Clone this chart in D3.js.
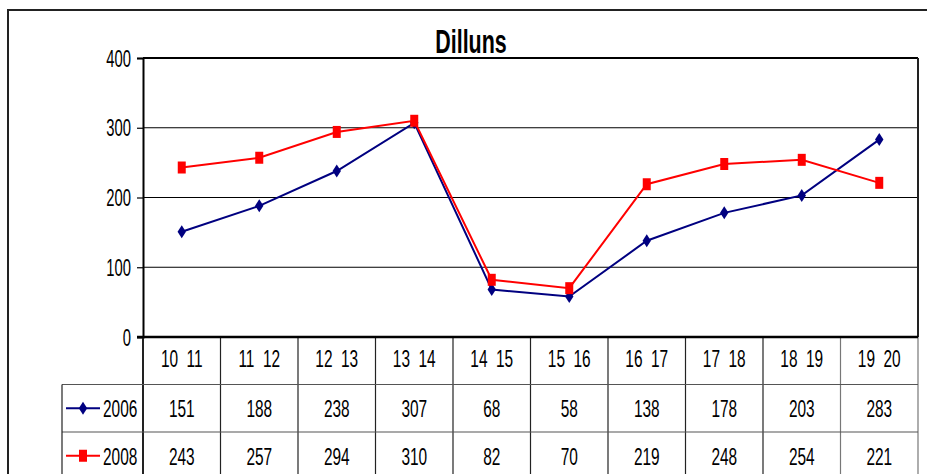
<!DOCTYPE html>
<html>
  <meta charset="utf-8" />
  <head>
    <script src="https://cdnjs.cloudflare.com/ajax/libs/d3/7.8.5/d3.min.js"></script>
    <style>
      body { margin: 0; background: #fff; }
      text { font-family: "Liberation Sans", Arial, sans-serif; fill: #000; white-space: pre; }
    </style>
  </head>
  <body>
    <script>
    const categories = ["10  11", "11  12", "12  13", "13  14", "14  15", "15  16", "16  17", "17  18", "18  19", "19  20"];
    const series2006 = [151, 188, 238, 307, 68, 58, 138, 178, 203, 283];
    const series2008 = [243, 257, 294, 310, 82, 70, 219, 248, 254, 221];
    const yTicks = [0, 100, 200, 300, 400];

    const series = [
        { name: "2006", values: series2006, color: "#000080", marker: "diamond" },
        { name: "2008", values: series2008, color: "#ff0000", marker: "square" },
    ];

    const width = 927, height = 474;
    const plot = { left: 143, right: 918, top: 58, bottom: 337 };
    const rowH = 47.5;
    const legendLeft = 62;
    const squeeze = 0.63; // the original text is narrow and tall

    const svg = d3.select("body").append("svg")
        .attr("width", width)
        .attr("height", height);

    // outer chart frame
    svg.append("rect")
        .attr("x", 8).attr("y", 10)
        .attr("width", 1000).attr("height", 600)
        .attr("fill", "none")
        .attr("stroke", "#222")
        .attr("stroke-width", 2);

    const x = d3.scaleBand().domain(categories).range([plot.left, plot.right]);
    const y = d3.scaleLinear().domain([0, 400]).range([plot.bottom, plot.top]);

    function label(g, tx, ty, str, size, anchor, weight) {
        return g.append("text")
            .attr("transform", `translate(${tx},${ty}) scale(${squeeze},1)`)
            .attr("text-anchor", anchor || "middle")
            .attr("font-size", size + "px")
            .attr("font-weight", weight || "normal")
            .text(str);
    }

    // title
    label(svg, 471, 53, "Dilluns", 34, "middle", "bold");

    // gridlines
    svg.append("g").selectAll("line")
        .data(yTicks.filter(t => t > 0 && t < 400))
        .join("line")
        .attr("x1", plot.left).attr("x2", plot.right)
        .attr("y1", d => y(d)).attr("y2", d => y(d))
        .attr("stroke", "#000").attr("stroke-width", 1.2);

    // plot border top / right
    svg.append("line")
        .attr("x1", plot.left).attr("x2", plot.right)
        .attr("y1", y(400)).attr("y2", y(400))
        .attr("stroke", "#000").attr("stroke-width", 2);
    svg.append("line")
        .attr("x1", plot.right).attr("x2", plot.right)
        .attr("y1", y(400)).attr("y2", plot.bottom)
        .attr("stroke", "#222").attr("stroke-width", 2);

    // y axis
    const yAxis = svg.append("g")
        .attr("transform", `translate(${plot.left},0)`)
        .call(d3.axisLeft(y).tickValues(yTicks).tickSize(6).tickFormat(""));
    yAxis.select(".domain").attr("stroke", "#000").attr("stroke-width", 2);
    yAxis.selectAll(".tick line").attr("stroke", "#000").attr("stroke-width", 1.2);
    yTicks.forEach(t => label(svg, 131, y(t) + 8.5, String(t), 23.5, "end"));

    // table lines
    const table = svg.append("g").attr("stroke", "#222").attr("stroke-width", 1.2);
    const bounds = categories.map(c => x(c)).concat([plot.right]);
    table.selectAll("line.v")
        .data(bounds)
        .join("line")
        .attr("class", "v")
        .attr("x1", d => d).attr("x2", d => d)
        .attr("y1", plot.bottom).attr("y2", height)
        .attr("stroke", (d, i) => i >= bounds.length - 2 ? "#777" : "#222")
        .attr("stroke-width", (d, i) => i === 0 ? 2 : 1.2);
    table.selectAll("line.h")
        .data([plot.bottom + rowH, plot.bottom + 2 * rowH])
        .join("line")
        .attr("class", "h")
        .attr("x1", legendLeft).attr("x2", plot.right)
        .attr("y1", d => d).attr("y2", d => d)
        .attr("stroke", "#555");
    table.append("line")
        .attr("x1", legendLeft).attr("x2", legendLeft)
        .attr("y1", plot.bottom + rowH).attr("y2", height);

    // zero line (category axis)
    svg.append("line")
        .attr("x1", plot.left - 6).attr("x2", plot.right)
        .attr("y1", y(0)).attr("y2", y(0))
        .attr("stroke", "#000").attr("stroke-width", 2.5);

    // category labels
    categories.forEach(c => label(svg, x(c) + x.bandwidth() / 2, plot.bottom + 30, c, 24.5));

    // markers: narrow and tall, like the original
    const markerPath = {
        diamond: "M0,-6.5L4.2,0L0,6.5L-4.2,0Z",
        square: "M-4,-6L4,-6L4,6L-4,6Z",
    };

    const line = d3.line()
        .x((d, i) => x(categories[i]) + x.bandwidth() / 2)
        .y(d => y(d));

    series.forEach((s, si) => {
        const g = svg.append("g");
        g.append("path")
            .datum(s.values)
            .attr("fill", "none")
            .attr("stroke", s.color)
            .attr("stroke-width", 2)
            .attr("d", line);
        g.selectAll("path.m")
            .data(s.values)
            .join("path")
            .attr("class", "m")
            .attr("transform", (d, i) => `translate(${x(categories[i]) + x.bandwidth() / 2},${y(d)})`)
            .attr("d", markerPath[s.marker])
            .attr("fill", s.color);

        // table row
        const rowMid = plot.bottom + rowH * (si + 1) + rowH / 2;
        s.values.forEach((v, i) => label(svg, x(categories[i]) + x.bandwidth() / 2, rowMid + 9, String(v), 24.5));

        // legend key
        g.append("line")
            .attr("x1", 66).attr("x2", 100)
            .attr("y1", rowMid).attr("y2", rowMid)
            .attr("stroke", s.color).attr("stroke-width", 2);
        g.append("path")
            .attr("transform", `translate(83,${rowMid})`)
            .attr("d", markerPath[s.marker])
            .attr("fill", s.color);
        label(svg, 103, rowMid + 9, s.name, 24.5, "start");
    });
</script>
</body>
</html>
